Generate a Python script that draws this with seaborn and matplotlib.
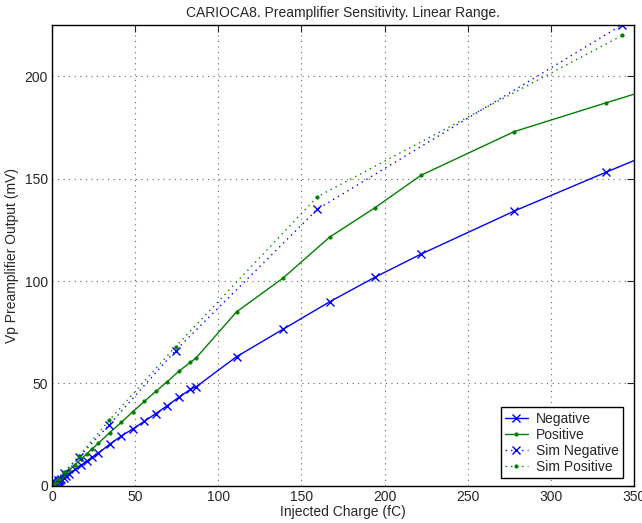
import numpy as np
import pandas as pd
import seaborn as sns
import matplotlib
matplotlib.use("Agg")
import matplotlib.pyplot as plt

# measured curves (charge in fC, output in mV)
neg_q = [0.7, 1.4, 2.1, 2.8, 3.5, 4.2, 4.9, 5.6, 7.0, 8.4, 10.4, 13.9, 17.4, 20.8,
         24.3, 27.8, 34.7, 41.6, 48.6, 55.5, 62.4, 69.4, 76.3, 83.2, 86.7, 111,
         139, 167, 194, 222, 278, 333, 389]
neg_v = [0.4, 0.8, 1.2, 1.6, 2.0, 2.4, 2.8, 3.2, 4.0, 4.8, 6.0, 8.0, 10.0, 12.0,
         14.0, 16.0, 20.3, 24.3, 27.8, 31.5, 35.3, 39.2, 43.3, 47.1, 48.4, 63.1,
         76.5, 89.9, 101.8, 113.2, 134.2, 153.1, 172.0]
pos_q = neg_q
pos_v = [0.6, 1.1, 1.6, 2.1, 2.6, 3.1, 3.6, 4.2, 5.2, 6.3, 7.8, 10.4, 13.0, 15.6,
         18.2, 20.8, 26.0, 31.0, 36.2, 41.2, 46.1, 50.9, 56.0, 60.3, 62.5, 85.0,
         101.5, 121.5, 135.7, 151.7, 173.0, 187.0, 201.0]

# simulation
sim_q = [0.75, 1.61, 3.47, 7.45, 16.0, 34.4, 74.3, 159.6, 343.0]
sim_neg_v = [0.65, 1.4, 3.0, 6.5, 13.9, 29.8, 66.1, 135.1, 225.2]
sim_pos_v = [0.7, 1.5, 3.2, 6.8, 14.5, 32.0, 68.0, 141.2, 220.0]

sns.set_style("white")
plt.rcParams["font.family"] = ["Liberation Sans", "DejaVu Sans"]
plt.rcParams["font.size"] = 10

fig = plt.figure(figsize=(6.42, 5.23), dpi=100)
ax = fig.add_axes([0.081, 0.071, 0.9065, 0.881])

blue = (0, 0, 1)
green = (0, 0.5, 0)
dots = (0, (1, 3))

sns.lineplot(x=neg_q, y=neg_v, ax=ax, color=blue, marker="x", markersize=5.5,
             markeredgewidth=1, markeredgecolor=blue, linewidth=1, sort=False,
             estimator=None, label="Negative")
sns.lineplot(x=pos_q, y=pos_v, ax=ax, color=green, marker=".", markersize=4.5,
             markeredgecolor=green, markerfacecolor=green, linewidth=1,
             sort=False, estimator=None, label="Positive")
sns.lineplot(x=sim_q, y=sim_neg_v, ax=ax, color=blue, marker="x", markersize=5.5,
             markeredgewidth=1, markeredgecolor=blue, linewidth=1,
             linestyle=dots, sort=False, estimator=None, label="Sim Negative")
sns.lineplot(x=sim_q, y=sim_pos_v, ax=ax, color=green, marker=".", markersize=4.5,
             markeredgecolor=green, markerfacecolor=green, linewidth=1,
             linestyle=dots, sort=False, estimator=None, label="Sim Positive")

ax.set_xlim(0, 350)
ax.set_ylim(0, 225)
ax.set_xticks(np.arange(0, 351, 50))
ax.set_yticks(np.arange(0, 201, 50))
ax.grid(True, linestyle=(0, (1, 4)), color="0.4", linewidth=0.8)
ax.tick_params(direction="in", top=True, right=True, length=5, width=0.8,
               labelsize=10, pad=3)
for s in ax.spines.values():
    s.set_color("black")
    s.set_linewidth(1)

ax.set_title("CARIOCA8. Preamplifier Sensitivity. Linear Range.", fontsize=10, pad=6)
ax.set_xlabel("Injected Charge (fC)", fontsize=10, labelpad=1)
ax.set_ylabel("Vp Preamplifier Output (mV)", fontsize=10, labelpad=4)

leg = ax.legend(loc="lower right", bbox_to_anchor=(0.981, 0.017), frameon=True,
                fancybox=False, edgecolor="black", framealpha=1, fontsize=10,
                handlelength=1.6, labelspacing=0.15, borderpad=0.3,
                handletextpad=0.6, borderaxespad=0)
leg.get_frame().set_linewidth(1)

fig.savefig("out.png", dpi=100)
